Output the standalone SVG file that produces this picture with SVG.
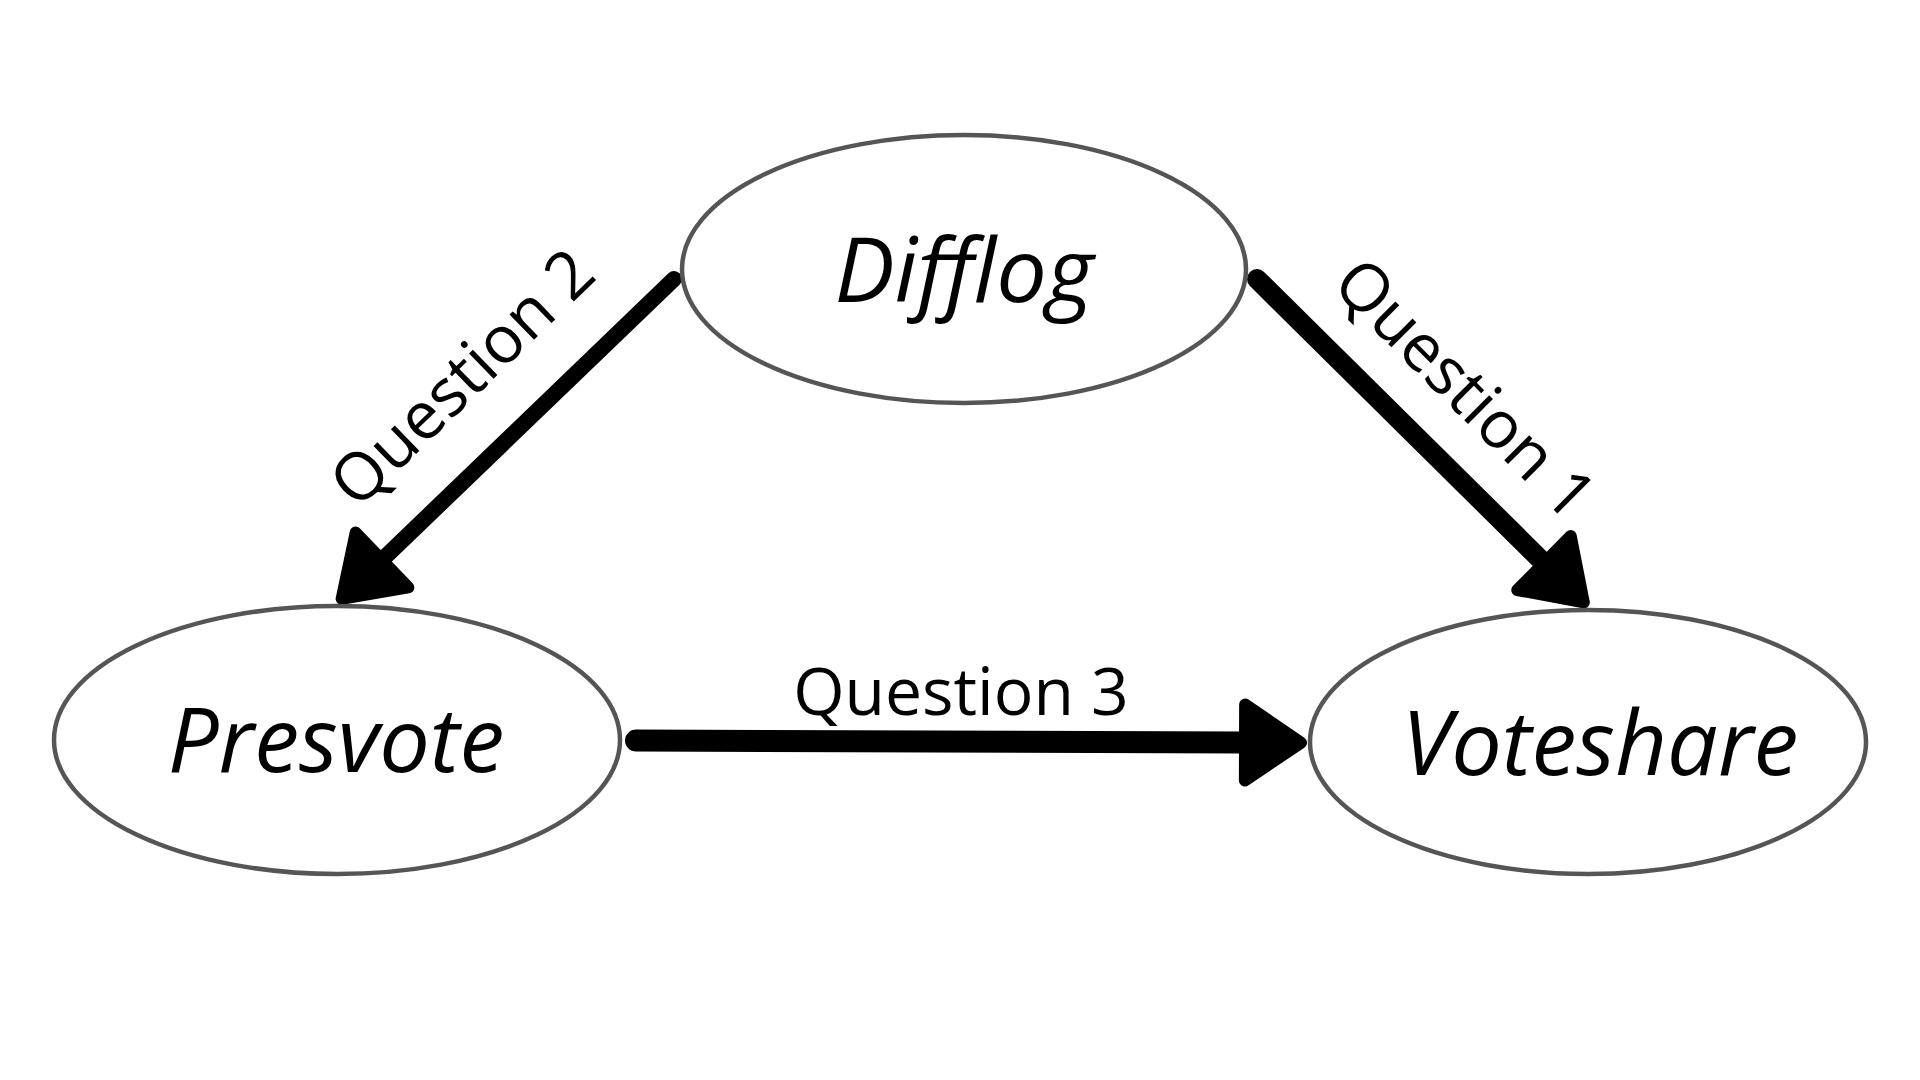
<svg xmlns="http://www.w3.org/2000/svg" width="1920" height="1080" viewBox="0 0 1920 1080">
  <style>
    .node { fill: #ffffff; stroke: #555555; stroke-width: 4.5; }
    .nlabel { font-family: "Open Sans", "Liberation Sans", sans-serif; font-style: italic; font-size: 90px; fill: #000000; text-anchor: middle; }
    .edge { fill: none; stroke: #000000; stroke-linecap: round; marker-end: url(#head); }
    .elabel { font-family: "Open Sans", "Liberation Sans", sans-serif; font-size: 66px; fill: #000000; text-anchor: middle; }
  </style>
  <defs>
    <marker id="head" markerUnits="userSpaceOnUse" viewBox="-10 -50 80 100" markerWidth="80" markerHeight="100" refX="0" refY="0" orient="auto">
      <path d="M0,-38 L56,0 L0,38 Z" fill="#000000" stroke="#000000" stroke-width="12" stroke-linejoin="round"/>
    </marker>
  </defs>
  <rect width="1920" height="1080" fill="#ffffff"/>
  <g id="connectors">
    <line class="edge" x1="1257" y1="279" x2="1544" y2="563" stroke-width="20"/>
    <line class="edge" x1="674" y1="279" x2="382" y2="560" stroke-width="16"/>
    <line class="edge" x1="636" y1="740.5" x2="1245" y2="742.5" stroke-width="22"/>
    <text class="elabel" transform="translate(1449,405) rotate(45)">Question 1</text>
    <text class="elabel" transform="translate(478,394) rotate(-44)">Question 2</text>
    <text class="elabel" x="961" y="715">Question 3</text>
  </g>
  <g id="node-difflog">
    <ellipse class="node" cx="964" cy="269" rx="282" ry="134"/>
    <text class="nlabel" x="964" y="302">Difflog</text>
  </g>
  <g id="node-presvote">
    <ellipse class="node" cx="337" cy="740" rx="283" ry="134"/>
    <text class="nlabel" x="336" y="772">Presvote</text>
  </g>
  <g id="node-voteshare">
    <ellipse class="node" cx="1588" cy="742" rx="278" ry="132"/>
    <text class="nlabel" x="1600" y="775">Voteshare</text>
  </g>
</svg>
